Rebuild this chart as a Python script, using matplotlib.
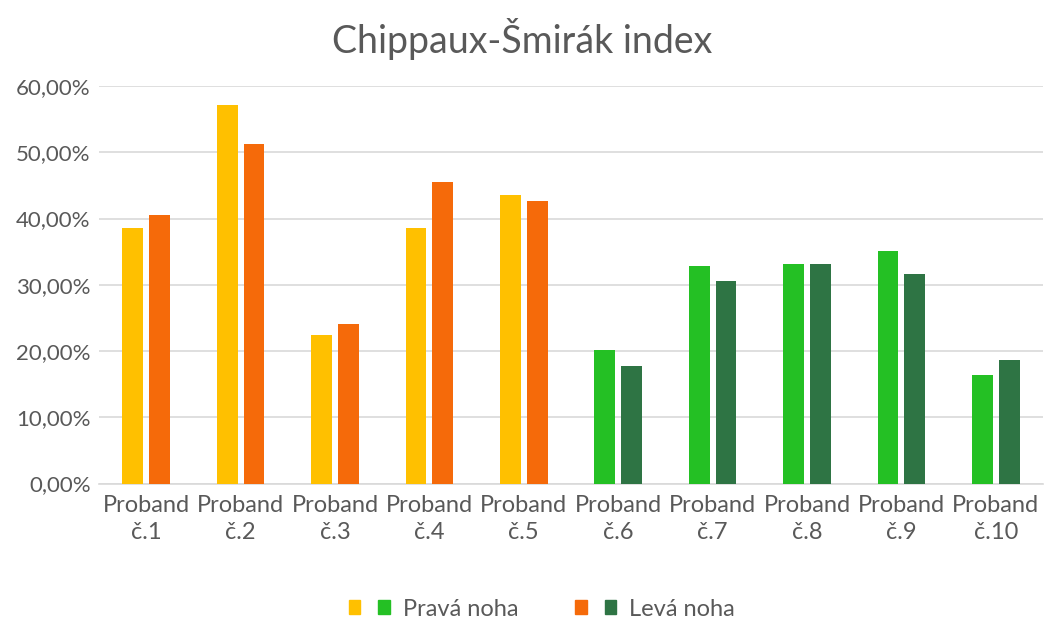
import matplotlib.pyplot as plt
import numpy as np
from matplotlib.patches import Patch
from matplotlib.legend_handler import HandlerTuple
from matplotlib.ticker import FuncFormatter

# Data (fraction, shown as percent)
probands = ["Proband\nč.1", "Proband\nč.2", "Proband\nč.3", "Proband\nč.4", "Proband\nč.5",
            "Proband\nč.6", "Proband\nč.7", "Proband\nč.8", "Proband\nč.9", "Proband\nč.10"]
prava_noha = [0.386, 0.571, 0.224, 0.386, 0.436, 0.201, 0.328, 0.331, 0.351, 0.164]
leva_noha = [0.405, 0.513, 0.241, 0.455, 0.426, 0.178, 0.305, 0.331, 0.316, 0.186]

# first five probands in yellow/orange, rest in greens
prava_colors = ["#FFC000"] * 5 + ["#24C024"] * 5
leva_colors = ["#F56A0A"] * 5 + ["#2E7444"] * 5

text_grey = "#595959"
plt.rcParams['font.family'] = ['Lato', 'DejaVu Sans']

fig = plt.figure(figsize=(10.44, 6.2), dpi=100)
ax = fig.add_axes([99 / 1044, 1 - 483.5 / 620, (1043 - 99) / 1044, (483.5 - 86) / 620])

x = np.arange(len(probands))
w = 0.22
gap = 0.065
ax.bar(x - (w + gap) / 2, prava_noha, width=w, color=prava_colors, zorder=3)
ax.bar(x + (w + gap) / 2, leva_noha, width=w, color=leva_colors, zorder=3)

ax.set_xlim(-0.5, len(probands) - 0.5)
ax.set_ylim(0, 0.6)
ax.set_yticks(np.arange(0, 0.61, 0.1))
ax.yaxis.set_major_formatter(FuncFormatter(lambda v, p: f"{v * 100:.2f}%".replace(".", ",")))
ax.set_xticks(x)
ax.set_xticklabels(probands, linespacing=1.4)
ax.tick_params(axis='y', length=0, labelsize=16, colors=text_grey, pad=6)
ax.tick_params(axis='x', length=0, labelsize=17, colors=text_grey, pad=8)

ax.grid(axis='y', color="#D9D9D9", linewidth=1.2, zorder=0)
for side in ['top', 'right', 'left']:
    ax.spines[side].set_visible(False)
ax.spines['bottom'].set_color("#D9D9D9")
ax.spines['bottom'].set_linewidth(1.2)

fig.text(0.5, 1 - 39 / 620, "Chippaux-Šmirák index", ha='center', va='center',
         fontsize=27, color=text_grey)

handles = [(Patch(color=prava_colors[0]), Patch(color=prava_colors[-1])),
           (Patch(color=leva_colors[0]), Patch(color=leva_colors[-1]))]
fig.legend(handles, ["Pravá noha", "Levá noha"], loc='center', bbox_to_anchor=(0.519, 1 - 609 / 620),
           ncol=2, frameon=False, fontsize=17, labelcolor=text_grey,
           handler_map={tuple: HandlerTuple(ndivide=None, pad=0.75)},
           handlelength=1.75, handleheight=0.5, columnspacing=2.4, handletextpad=0.55)

fig.savefig("out.png", dpi=100)
